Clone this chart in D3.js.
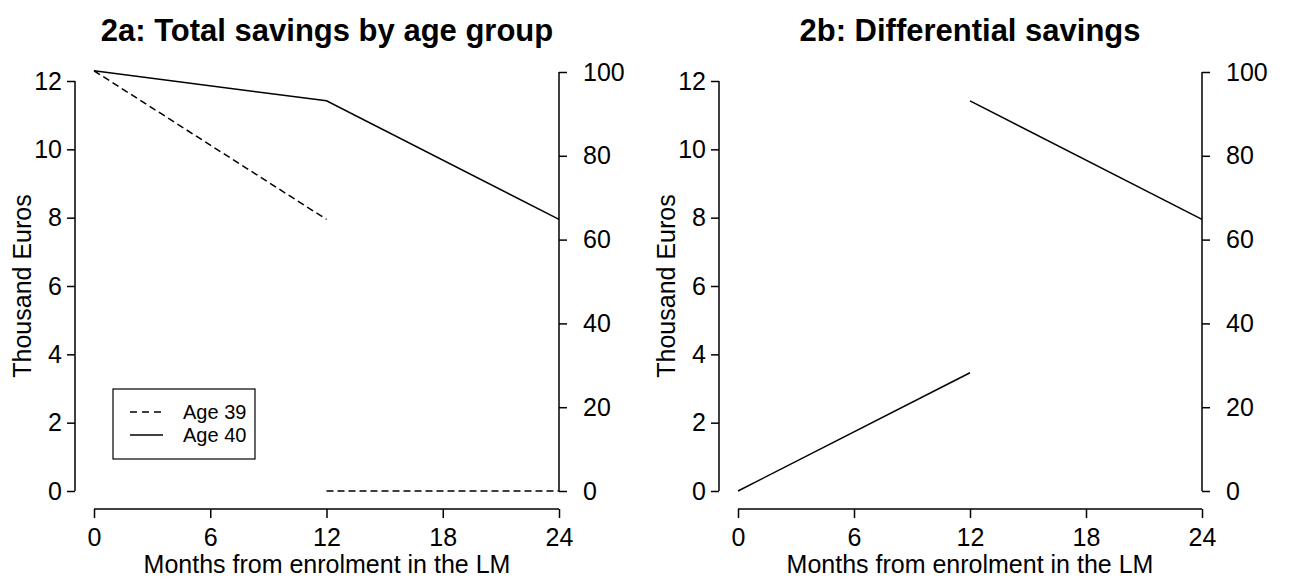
<!DOCTYPE html>
<html>
<head>
<meta charset="utf-8">
<script src="https://cdn.jsdelivr.net/npm/d3@7"></script>
<style>
  html, body { margin: 0; padding: 0; background: #fff; }
  svg { display: block; font-family: "Liberation Sans", Arial, Helvetica, sans-serif; }
</style>
</head>
<body>
<svg id="chart" width="1292" height="577"></svg>
<script>
// ---- Data (thousand euros, months from enrolment) ----
const panelTitles = ["2a: Total savings by age group", "2b: Differential savings"];
const xTicks = [0, 6, 12, 18, 24];
const yLeftTicks = [0, 2, 4, 6, 8, 10, 12];
const yRightTicks = [0, 20, 40, 60, 80, 100];
const legendLabels = ["Age 39", "Age 40"];
const xTitle = "Months from enrolment in the LM";
const yTitle = "Thousand Euros";

// Panel 2a series (each a list of segments: months + values)
const age39Months = [[0, 12], [12, 24]];
const age39Values = [[12.3, 7.95], [0, 0]];
const age40Months = [[0, 12, 24]];
const age40Values = [[12.3, 11.42, 7.95]];
// Panel 2b series
const diffMonths = [[0, 12], [12, 24]];
const diffValues = [[0, 3.46], [11.42, 7.95]];

// ---- Layout ----
const svg = d3.select("#chart");
const panels = [
  { left: 75, x0: 94, x1: 559, cx: 327 },
  { left: 719, x0: 738, x1: 1202, cx: 970 }
];
const yBottom = 491, yTopLeft = 81, yTopRight = 72;
const xAxisY = 509;

function seg(monthsArr, valuesArr) {
  return monthsArr.map((ms, i) => ms.map((m, j) => ({ m: m, v: valuesArr[i][j] })));
}

const panelSeries = [
  [ { segs: seg(age39Months, age39Values), dash: "7,4" },
    { segs: seg(age40Months, age40Values), dash: null } ],
  [ { segs: seg(diffMonths, diffValues), dash: null } ]
];

panels.forEach((p, pi) => {
  const g = svg.append("g");
  const x = d3.scaleLinear().domain([0, 24]).range([p.x0, p.x1]);
  const yL = d3.scaleLinear().domain([0, 12]).range([yBottom, yTopLeft]);
  const yR = d3.scaleLinear().domain([0, 100]).range([yBottom, yTopRight]);

  const axL = g.append("g").attr("transform", `translate(${p.left},0)`)
    .call(d3.axisLeft(yL).tickValues(yLeftTicks).tickSize(8).tickPadding(5).tickFormat(d3.format("d")));
  const axR = g.append("g").attr("transform", `translate(${p.x1},0)`)
    .call(d3.axisRight(yR).tickValues(yRightTicks).tickSize(8).tickPadding(15).tickFormat(d3.format("d")));
  const axB = g.append("g").attr("transform", `translate(0,${xAxisY})`)
    .call(d3.axisBottom(x).tickValues(xTicks).tickSize(9).tickPadding(10).tickFormat(d3.format("d")));

  [axL, axR, axB].forEach(a => {
    a.select(".domain").attr("stroke", "#000").attr("stroke-width", 1.5);
    a.selectAll(".tick line").attr("stroke", "#000").attr("stroke-width", 1.5);
    a.selectAll(".tick text").attr("fill", "#000").style("font-size", "25px")
      .style("font-family", "'Liberation Sans', Arial, sans-serif");
  });
  axR.selectAll(".tick text").attr("x", 24);
  axL.select(".domain").attr("d", `M0,${yL(12)}V${yL(0)}`);
  axR.select(".domain").attr("d", `M0,${yR(100)}V${yR(0)}`);
  axB.select(".domain").attr("d", `M${x(0)},0H${x(24)}`);

  const line = d3.line().x(d => x(d.m)).y(d => yL(d.v));
  panelSeries[pi].forEach(s => {
    s.segs.forEach(sg => {
      g.append("path").datum(sg).attr("d", line)
        .attr("fill", "none").attr("stroke", "#000").attr("stroke-width", 1.5)
        .attr("stroke-dasharray", s.dash);
    });
  });

  g.append("text").attr("x", p.cx).attr("y", 41).attr("text-anchor", "middle")
    .style("font-size", "31px").style("font-weight", "bold").text(panelTitles[pi]);
  g.append("text").attr("x", p.cx).attr("y", 573).attr("text-anchor", "middle")
    .style("font-size", "25px").text(xTitle);
  g.append("text").attr("transform", `translate(${p.left - 53},${(yL(0) + yL(12)) / 2}) rotate(-90)`)
    .attr("text-anchor", "middle").attr("dy", "0.35em")
    .style("font-size", "25px").text(yTitle);

  if (pi === 0) {
    const lg = g.append("g");
    lg.append("rect").attr("x", 113).attr("y", 389).attr("width", 142).attr("height", 70)
      .attr("fill", "#fff").attr("stroke", "#000").attr("stroke-width", 1.2);
    const dashes = ["7,5", null];
    legendLabels.forEach((lab, i) => {
      const yy = 412 + i * 23;
      lg.append("line").attr("x1", 130).attr("x2", 163).attr("y1", yy).attr("y2", yy)
        .attr("stroke", "#000").attr("stroke-width", 1.3).attr("stroke-dasharray", dashes[i]);
      lg.append("text").attr("x", 183).attr("y", yy).attr("dy", "0.35em")
        .style("font-size", "20px").text(lab);
    });
  }
});
</script>
</body>
</html>
